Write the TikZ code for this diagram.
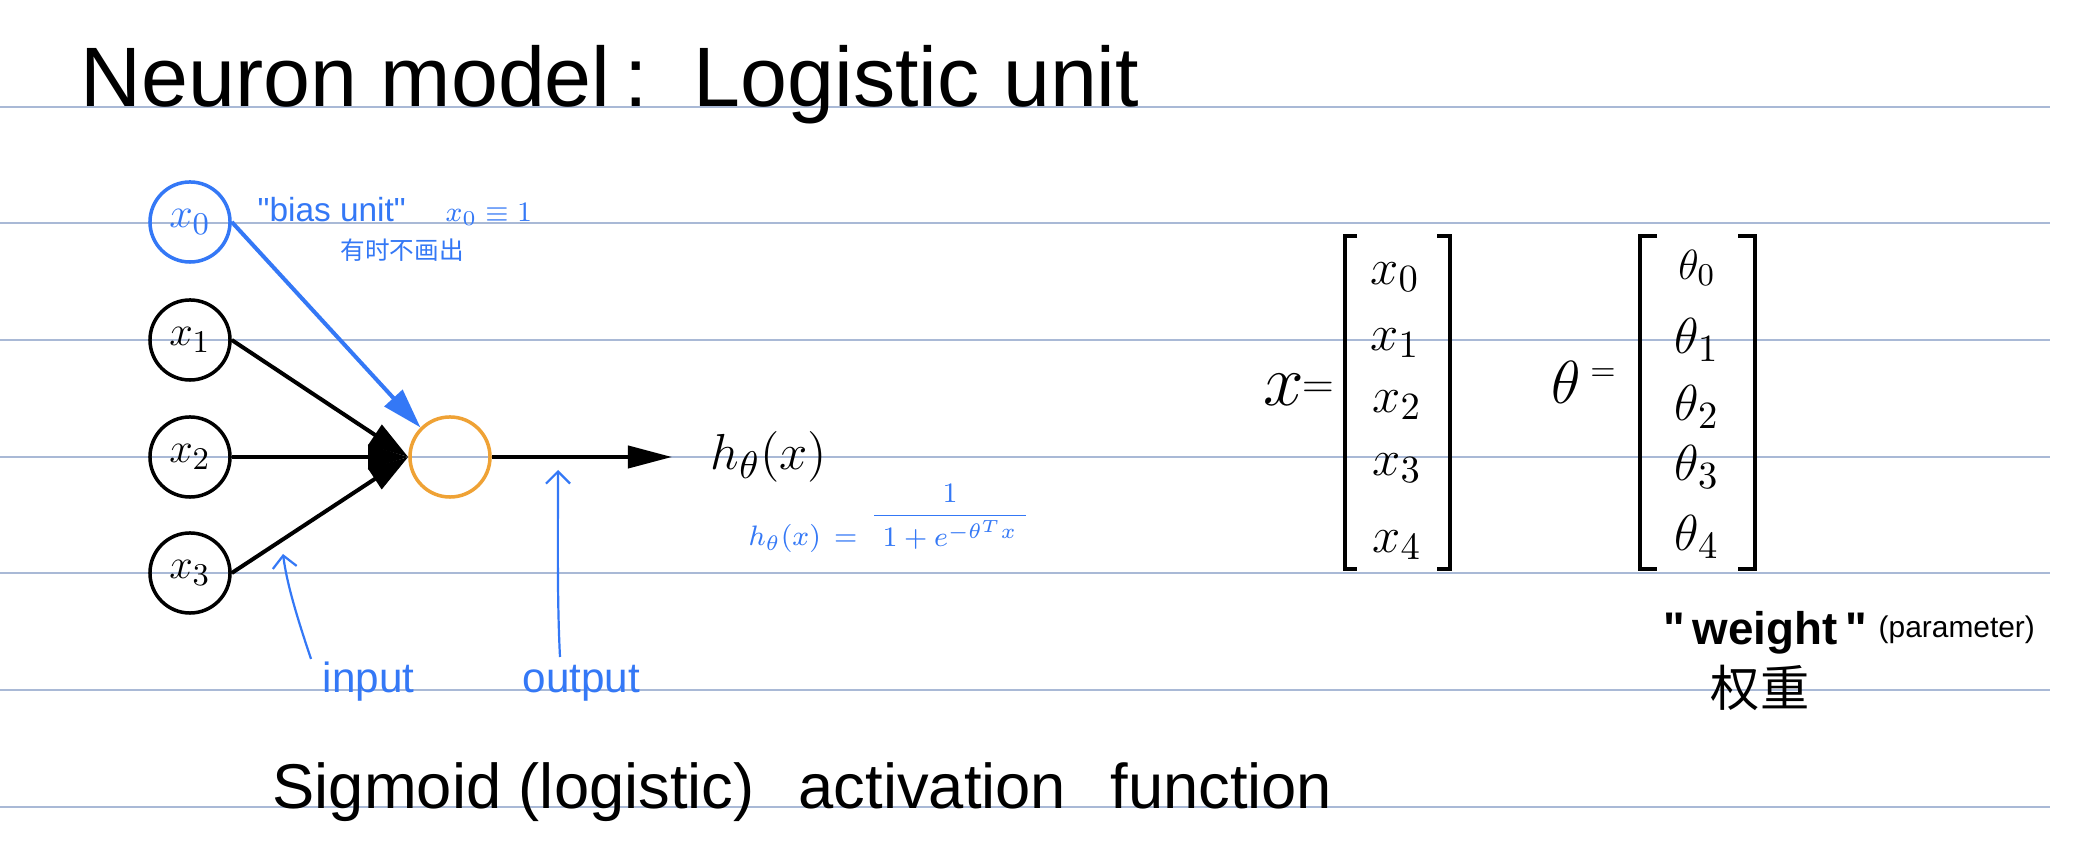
\documentclass[tikz,border=0pt]{standalone}
\usepackage{fontspec}
\setmainfont{Liberation Sans}
\newfontfamily\cjk{Noto Sans CJK SC}
\usetikzlibrary{arrows.meta}
\definecolor{ink}{HTML}{3478F6}
\definecolor{orng}{HTML}{EFA235}
\definecolor{rulecol}{HTML}{A9B9D6}
\newcommand{\fs}[1]{\fontsize{#1}{#1}\selectfont}
\begin{document}
\begin{tikzpicture}[x=0.01cm,y=-0.01cm,
  unit/.style={circle,draw,line width=0.035cm,minimum size=0.8cm,inner sep=0pt,font=\fs{13}},
  wire/.style={line width=0.04cm,-{Triangle[length=0.4cm,width=0.24cm]}},
  note/.style={ink,line width=0.022cm,-{Straight Barb[length=1.2mm,width=2.4mm]}},
  txt/.style={inner sep=0pt,anchor=base west},
  ctr/.style={inner sep=0pt},
  ruled/.style={rulecol,line width=0.018cm},
  brk/.style={line width=0.04cm}
]
\fill[white] (0,0) rectangle (2080,865);
\useasboundingbox (0,0) rectangle (2080,865);
\foreach \yy in {106.7,223.3,340,456.7,573.3,690,806.7} \draw[ruled] (0,\yy) -- (2050,\yy);

% title
\node[txt,font=\fs{24}] (title) at (80,107) {Neuron model\,:\, Logistic unit};

% units
\node[unit,draw=ink,text=ink] (x0) at (190,222) {$x_0$};
\node[unit] (x1) at (190,340) {$x_1$};
\node[unit] (x2) at (190,457) {$x_2$};
\node[unit] (x3) at (190,573) {$x_3$};
\node[unit,draw=orng] (n) at (450,457) {};
\coordinate (hout) at (672,457);

\draw[wire,draw=ink,fill=ink] (x0.east) -- (n.north west);
\draw[wire] (x1.east) -- (n.west);
\draw[wire] (x2.east) -- (n.west);
\draw[wire] (x3.east) -- (n.west);
\draw[line width=0.04cm,-{Triangle[length=0.44cm,width=0.22cm]}] (n.east) -- (hout);

% bias annotation
\node[txt,text=ink,font=\fs{9.5}] (bias) at (257,222) {\textquotedbl bias unit\textquotedbl};
\node[txt,text=ink,font=\fs{8}] (biasdef) at (445,222) {$x_0 \equiv 1$};
\node[txt,text=ink,font=\cjk\fs{7}] (biascn) at (340,260) {有时不画出};

% h label and formula
\node[anchor=west,inner sep=0pt,font=\fs{15}] (h) at (710,457) {$h_\theta(x)$};
\node[txt,text=ink,font=\fs{8}] (hl) at (748,546) {$h_\theta(x)\,=$};
\node[ctr,text=ink,font=\fs{8}] (frac) at (950,517) {$\displaystyle\frac{1}{\;1+e^{-\theta^{T}x}\;}$};

% input / output notes
\coordinate (ia) at (311,659);
\coordinate (ib) at (283,554);
\coordinate (oa) at (560,657);
\coordinate (ob) at (558,470);
\draw[note] (ia) .. controls (298,620) and (287,585) .. (ib);
\draw[note] (oa) .. controls (557,600) and (558,530) .. (ob);
\node[txt,text=ink,font=\fs{12}] (inlab) at (322,693) {input};
\node[txt,text=ink,font=\fs{12}] (outlab) at (522,693) {output};

% sigmoid
\node[txt,font=\fs{18}] (sig) at (272,808) {Sigmoid (logistic)\hspace{0.7em}activation\hspace{0.7em}function};

% x vector
\node[ctr,font=\fs{20}] (xeq) at (1284,390) {$x$};
\node[ctr,font=\fs{13}] (xeqs) at (1318,390) {$=$};
\draw[brk] (1357,236) -- (1345,236) -- (1345,569) -- (1357,569);
\draw[brk] (1437,236) -- (1450,236) -- (1450,569) -- (1437,569);
\node[ctr,font=\fs{15}] (xv0) at (1395,277) {$x_0$};
\node[ctr,font=\fs{15}] (xv1) at (1395,343) {$x_1$};
\node[ctr,font=\fs{15}] (xv2) at (1397,405) {$x_2$};
\node[ctr,font=\fs{15}] (xv3) at (1397,468) {$x_3$};
\node[ctr,font=\fs{15}] (xv4) at (1397,545) {$x_4$};

% theta vector
\node[ctr,font=\fs{16}] (teq) at (1566,382) {$\theta$};
\node[ctr,font=\fs{9}] (teqs) at (1603,375) {$=$};
\draw[brk] (1657,236) -- (1640,236) -- (1640,569) -- (1657,569);
\draw[brk] (1738,236) -- (1755,236) -- (1755,569) -- (1738,569);
\node[ctr,font=\fs{13}] (t0) at (1697,268) {$\theta_0$};
\node[ctr,font=\fs{15}] (t1) at (1697,340) {$\theta_1$};
\node[ctr,font=\fs{15}] (t2) at (1697,407) {$\theta_2$};
\node[ctr,font=\fs{15}] (t3) at (1697,467) {$\theta_3$};
\node[ctr,font=\fs{15}] (t4) at (1697,537) {$\theta_4$};

% weight
\node[txt,font=\bfseries\fs{13}] (w) at (1663,645) {\textquotedbl\,weight\,\textquotedbl};
\node[txt,font=\fs{8.5}] (param) at (1878,638) {(parameter)};
\node[ctr,font=\cjk\fs{14}] (wcn) at (1760,688) {权重};
\end{tikzpicture}
\end{document}
